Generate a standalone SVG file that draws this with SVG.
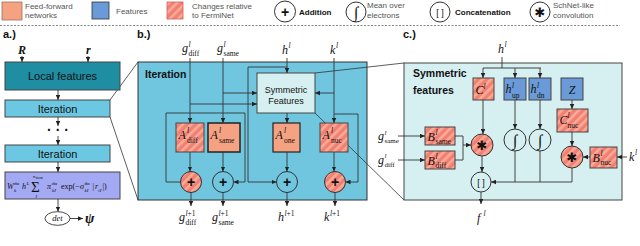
<svg xmlns="http://www.w3.org/2000/svg" width="640" height="246" viewBox="0 0 640 246">
<defs>
<pattern id="hatch" width="6" height="6" patternUnits="userSpaceOnUse" patternTransform="rotate(45)">
<rect width="6" height="6" fill="#f27e79"/>
<rect width="2.6" height="6" fill="#f9ad8e"/>
</pattern>
<marker id="ah" viewBox="0 0 10 10" refX="10" refY="5" markerWidth="5" markerHeight="5" markerUnits="userSpaceOnUse" orient="auto">
<path d="M0,0.5 L10,5 L0,9.5 z" fill="#222"/>
</marker>
</defs>
<style>
.ln{fill:none;stroke:#333;stroke-width:0.9}
.ar{marker-end:url(#ah)}
.zl{fill:none;stroke:#333;stroke-width:0.8}
.bx{stroke:#444;stroke-width:1}
.ff{fill:#f5a282}
.ht{fill:url(#hatch)}
.ft{fill:#6a9bd8}
.op{fill:none;stroke:#333;stroke-width:1}
.oph{fill:url(#hatch);stroke:#333;stroke-width:1}
.lg{font-family:"Liberation Sans",Arial,sans-serif;font-size:8px;fill:#555}
.lgb{font-family:"Liberation Sans",Arial,sans-serif;font-size:8px;font-weight:bold;fill:#111}
.pl{font-family:"Liberation Sans",Arial,sans-serif;font-size:11px;font-weight:bold;fill:#111}
.sn{font-family:"Liberation Sans",Arial,sans-serif;fill:#111}
.m{font-family:"Liberation Serif","Times New Roman",serif;font-style:italic;font-size:12px;fill:#111}
.s{font-size:7.5px}
.r{font-style:normal}
.t{font-size:5px}
.pls{font-family:"Liberation Sans",Arial,sans-serif;font-weight:bold;font-size:14px;fill:#111;text-anchor:middle}
.int{font-family:"Liberation Serif","Times New Roman",serif;font-style:italic;font-size:16px;fill:#111;text-anchor:middle}
.ast{font-family:"DejaVu Sans",sans-serif;font-size:13px;fill:#111;text-anchor:middle}
.cc{font-family:"Liberation Sans",Arial,sans-serif;font-size:9px;fill:#111;text-anchor:middle}
</style>
<rect width="640" height="246" fill="#ffffff"/>

<g id="legend">
<rect x="2" y="2" width="20" height="18" class="ff" stroke="#9a7060" stroke-width="0.8"/>
<text class="lg" x="25" y="9">Feed-forward</text>
<text class="lg" x="25" y="18">networks</text>
<rect x="92" y="2" width="17" height="17" class="ft" stroke="#333" stroke-width="0.8"/>
<text class="lg" x="116" y="14">Features</text>
<rect x="167" y="2" width="16" height="17" class="ht" stroke="#d06060" stroke-width="0.8"/>
<text class="lg" x="192" y="8.5">Changes relative</text>
<text class="lg" x="192" y="18">to FermiNet</text>
<circle cx="285" cy="11.5" r="10.5" class="op"/>
<text class="pls" x="285" y="16.5">+</text>
<text class="lgb" x="299" y="15">Addition</text>
<circle cx="356" cy="12" r="10" class="op"/>
<text class="int" x="356" y="17.5">∫</text>
<text class="lg" x="367" y="8">Mean over</text>
<text class="lg" x="367" y="18">electrons</text>
<circle cx="440" cy="12" r="10" class="op"/>
<text class="cc" x="440" y="15.5">[ ]</text>
<text class="lgb" x="455" y="15">Concatenation</text>
<circle cx="540" cy="12" r="10" class="op"/>
<text class="ast" x="540" y="17">✱</text>
<text class="lg" x="553" y="8">SchNet-like</text>
<text class="lg" x="553" y="18">convolution</text>
<line x1="0" y1="25.5" x2="620" y2="25.5" stroke="#666" stroke-width="0.8" stroke-dasharray="2 1.5"/>
<text class="pl" x="3" y="38">a.)</text>
<text class="pl" x="137" y="38">b.)</text>
<text class="pl" x="403" y="38">c.)</text>
</g>

<g id="panel-b">
<rect x="138" y="62" width="229" height="138" fill="#70c6df" stroke="#333" stroke-width="1"/>
<text class="sn" x="145" y="77.5" font-size="10.5" font-weight="bold">Iteration</text>
</g>
<g id="panel-c">
<rect x="404" y="63" width="218" height="137" fill="#d6eff0" stroke="#444" stroke-width="1"/>
<text class="sn" x="413" y="76.5" font-size="10.5" font-weight="bold">Symmetric</text>
<text class="sn" x="413" y="94" font-size="10.5" font-weight="bold">features</text>
</g>

<g id="zoom-lines">
<path class="zl" d="M110,100 L138,62 M110,117 L138,200"/>
<path class="zl" d="M315,73 L404,63 M315,113 L404,200"/>
</g>

<g id="a-R"><text class="m" x="18" y="54" style="font-weight:bold">R</text></g>
<g id="a-r"><text class="m" x="86" y="54" style="font-weight:bold">r</text></g>
<g id="a-local">
<rect x="5" y="62" width="115" height="28" fill="#1f8ea3" class="bx"/>
<text class="sn" x="62.5" y="80" font-size="11" text-anchor="middle">Local features</text>
</g>
<g id="a-iter1">
<rect x="5" y="100" width="105" height="17" fill="#6cc8e2" class="bx"/>
<text class="sn" x="57.5" y="112.5" font-size="11" text-anchor="middle">Iteration</text>
</g>
<g id="a-dots"><text class="sn" x="58" y="135" font-size="14" font-weight="bold" text-anchor="middle">· · ·</text></g>
<g id="a-iter2">
<rect x="5" y="145" width="105" height="17" fill="#6cc8e2" class="bx"/>
<text class="sn" x="57.5" y="157.5" font-size="11" text-anchor="middle">Iteration</text>
</g>
<g id="a-envelope">
<rect x="5" y="172" width="115" height="27" fill="#a3a9f3" class="bx"/>
<text class="m" style="font-size:8px">
<tspan x="7" y="189">W</tspan><tspan class="r t" x="14" y="185">dα</tspan><tspan class="t" x="14" y="191.5">k</tspan>
<tspan x="22" y="189">h</tspan><tspan class="t" x="26.5" y="185">L</tspan>
<tspan class="r" x="31" y="191.5" style="font-size:15px">Σ</tspan>
<tspan class="t" x="33" y="178">n</tspan><tspan class="r" x="35.8" y="179" style="font-size:3.5px">atom</tspan>
<tspan x="35.5" y="198.3" style="font-size:4.5px">I</tspan>
<tspan x="47" y="189">π</tspan><tspan class="r t" x="52" y="185">dα</tspan><tspan class="t" x="52" y="191.5">kI</tspan>
<tspan class="r" x="61" y="189">exp(−</tspan><tspan x="80" y="189">σ</tspan><tspan class="r t" x="84.5" y="185">dα</tspan><tspan class="t" x="84.5" y="191.5">kI</tspan>
<tspan class="r" x="92.5" y="189">|</tspan><tspan x="95" y="189">r</tspan><tspan class="t" x="98.3" y="191.5">iI</tspan><tspan class="r" x="102.5" y="189">|)</tspan>
</text>
</g>
<g id="a-det">
<ellipse cx="57.5" cy="218.5" rx="12.5" ry="6.8" fill="#fff" stroke="#333" stroke-width="0.9"/>
<text class="m" x="57.5" y="221.3" style="font-size:8.5px" text-anchor="middle">det</text>
</g>
<g id="a-psi"><text class="m" x="85" y="222.5" style="font-size:14px;font-weight:bold">ψ</text></g>

<g id="b-gdiff-in"><text class="m" x="182" y="52">g<tspan x="188.5" y="47" class="s">l</tspan><tspan x="188.5" y="55.5" class="s r">diff</tspan></text></g>
<g id="b-gsame-in"><text class="m" x="217" y="52">g<tspan x="223.5" y="47" class="s">l</tspan><tspan x="223.5" y="55.5" class="s r">same</tspan></text></g>
<g id="b-h-in"><text class="m" x="282" y="54">h<tspan x="288.5" y="48" class="s">l</tspan></text></g>
<g id="b-k-in"><text class="m" x="330" y="54">k<tspan x="336" y="48" class="s">l</tspan></text></g>
<g id="b-sym">
<rect x="257" y="73" width="58" height="40" fill="#d6eff0" class="bx"/>
<text class="sn" x="286" y="92.5" font-size="9" text-anchor="middle">Symmetric</text>
<text class="sn" x="286" y="104" font-size="9" text-anchor="middle">Features</text>
</g>
<g id="b-Adiff">
<rect x="176" y="123" width="28" height="29" class="ht bx"/>
<text class="m" x="178.5" y="139">A<tspan x="187" y="133" class="s">l</tspan><tspan x="187" y="142.5" class="s r">diff</tspan></text>
</g>
<g id="b-Asame">
<rect x="208" y="123" width="32" height="29" class="ff" stroke="#222" stroke-width="1.5"/>
<text class="m" x="210.5" y="139">A<tspan x="219" y="133" class="s">l</tspan><tspan x="219" y="142.5" class="s r">same</tspan></text>
</g>
<g id="b-Aone">
<rect x="273" y="123" width="27" height="29" class="ff" stroke="#222" stroke-width="1.2"/>
<text class="m" x="275.5" y="139">A<tspan x="284" y="133" class="s">l</tspan><tspan x="284" y="142.5" class="s r">one</tspan></text>
</g>
<g id="b-Anuc">
<rect x="320" y="123" width="28" height="29" class="ht bx"/>
<text class="m" x="322.5" y="139">A<tspan x="331" y="133" class="s">l</tspan><tspan x="331" y="142.5" class="s r">nuc</tspan></text>
</g>
<g id="b-add-gdiff"><circle cx="191" cy="182" r="10.5" class="oph"/><text class="pls" x="191" y="187">+</text></g>
<g id="b-add-gsame"><circle cx="223" cy="182" r="10.5" class="op"/><text class="pls" x="223" y="187">+</text></g>
<g id="b-add-h"><circle cx="287" cy="182" r="10.5" class="op"/><text class="pls" x="287" y="187">+</text></g>
<g id="b-add-k"><circle cx="335" cy="182" r="10.5" class="oph"/><text class="pls" x="335" y="187">+</text></g>
<g id="b-gdiff-out"><text class="m" x="179" y="221">g<tspan x="185.5" y="215.5" class="s">l<tspan class="r">+1</tspan></tspan><tspan x="185.5" y="225" class="s r">diff</tspan></text></g>
<g id="b-gsame-out"><text class="m" x="212" y="221">g<tspan x="218.5" y="215.5" class="s">l<tspan class="r">+1</tspan></tspan><tspan x="218.5" y="225" class="s r">same</tspan></text></g>
<g id="b-h-out"><text class="m" x="278" y="221">h<tspan x="284.5" y="215.5" class="s">l<tspan class="r">+1</tspan></tspan></text></g>
<g id="b-k-out"><text class="m" x="324" y="221">k<tspan x="330" y="215.5" class="s">l<tspan class="r">+1</tspan></tspan></text></g>

<g id="c-h-in"><text class="m" x="498" y="53">h<tspan x="504.5" y="47" class="s">l</tspan></text></g>
<g id="c-C">
<rect x="473" y="78" width="21" height="22" class="ht bx"/>
<text class="m" x="475.5" y="94">C<tspan x="483.5" y="88.5" class="s">l</tspan></text>
</g>
<g id="c-hup">
<rect x="504" y="78" width="22" height="22" class="ft bx"/>
<text class="m" x="505.5" y="93">h<tspan x="512" y="88" class="s">l</tspan><tspan x="512" y="97.5" class="s r">up</tspan></text>
</g>
<g id="c-hdn">
<rect x="529" y="78" width="22" height="22" class="ft bx"/>
<text class="m" x="530.5" y="93">h<tspan x="537" y="88" class="s">l</tspan><tspan x="537" y="97.5" class="s r">dn</tspan></text>
</g>
<g id="c-Z">
<rect x="561" y="78" width="22" height="22" class="ft bx"/>
<text class="m" x="572" y="94" text-anchor="middle">Z</text>
</g>
<g id="c-Cnuc">
<rect x="557" y="109" width="31" height="23" class="ht bx"/>
<text class="m" x="559.5" y="124">C<tspan x="567.5" y="118" class="s">l</tspan><tspan x="567.5" y="127.5" class="s r">nuc</tspan></text>
</g>
<g id="c-gsame-in"><text class="m" x="378" y="140">g<tspan x="384.5" y="134.5" style="font-size:7px">l</tspan><tspan x="384.5" y="143" class="r" style="font-size:7px">same</tspan></text></g>
<g id="c-gdiff-in"><text class="m" x="378" y="163.5">g<tspan x="384.5" y="158" style="font-size:7px">l</tspan><tspan x="384.5" y="166.5" class="r" style="font-size:7px">diff</tspan></text></g>
<g id="c-Bsame">
<rect x="425" y="127" width="30" height="18" class="ht bx"/>
<text class="m" x="427.5" y="140.5">B<tspan x="435.5" y="135" class="s">l</tspan><tspan x="435.5" y="143.5" class="s r">same</tspan></text>
</g>
<g id="c-Bdiff">
<rect x="425" y="151" width="30" height="18" class="ht bx"/>
<text class="m" x="427.5" y="164.5">B<tspan x="435.5" y="159" class="s">l</tspan><tspan x="435.5" y="167.5" class="s r">diff</tspan></text>
</g>
<g id="c-conv"><circle cx="482" cy="145" r="11" class="oph"/><text class="ast" x="482" y="150">✱</text></g>
<g id="c-int-up"><circle cx="515" cy="140" r="11" class="op"/><text class="int" x="515" y="145.5">∫</text></g>
<g id="c-int-dn"><circle cx="540" cy="140" r="11" class="op"/><text class="int" x="540" y="145.5">∫</text></g>
<g id="c-conv-nuc"><circle cx="572" cy="157" r="11" class="oph"/><text class="ast" x="572" y="162">✱</text></g>
<g id="c-Bnuc">
<rect x="590" y="147" width="27" height="21" class="ht bx"/>
<text class="m" x="592.5" y="161.5">B<tspan x="600.5" y="155.5" class="s">l</tspan><tspan x="600.5" y="165" class="s r">nuc</tspan></text>
</g>
<g id="c-k-in"><text class="m" x="629" y="161">k<tspan x="635" y="155" class="s">l</tspan></text></g>
<g id="c-concat"><circle cx="481" cy="182" r="10" class="op"/><text class="cc" x="481" y="185.5">[ ]</text></g>
<g id="c-f-out"><text class="m" x="477" y="222">f<tspan x="483.5" y="216" class="s">l</tspan></text></g>

<g id="connectors">
<path class="ln ar" d="M22,56 V62"/>
<path class="ln ar" d="M88,56 V62"/>
<path class="ln ar" d="M58,90 V100"/>
<path class="ln ar" d="M58,117 V126"/>
<path class="ln ar" d="M58,136 V145"/>
<path class="ln ar" d="M58,162 V172"/>
<path class="ln ar" d="M58,199 V211.7"/>
<path class="ln ar" d="M70,218.5 H83"/>
<path class="ln ar" d="M190,58 V123"/>
<path class="ln ar" d="M223,58 V123"/>
<path class="ln ar" d="M223,93 H257"/>
<path class="ln ar" d="M190,104 H257"/>
<path class="ln ar" d="M287,58 V73"/>
<path class="ln ar" d="M334,58 V123"/>
<path class="ln ar" d="M334,93 H315"/>
<path class="ln ar" d="M287,113 V123"/>
<path class="ln ar" d="M180.5,182 H166 V113 H245 V182 H233.5"/>
<path class="ln ar" d="M287,67 H248 V182 H276.5"/>
<path class="ln ar" d="M334,114 H358 V182 H345.5"/>
<path class="ln ar" d="M190,152 V171.5"/>
<path class="ln ar" d="M223,152 V171.5"/>
<path class="ln ar" d="M287,152 V171.5"/>
<path class="ln ar" d="M334,152 V171.5"/>
<path class="ln ar" d="M191,192.5 V206"/>
<path class="ln ar" d="M223,192.5 V206"/>
<path class="ln ar" d="M287,192.5 V206"/>
<path class="ln ar" d="M335,192.5 V206"/>
<path class="ln" d="M502,57 V68 M483,68 H541"/>
<path class="ln ar" d="M483,68 V78"/>
<path class="ln ar" d="M515,68 V78"/>
<path class="ln ar" d="M540,68 V78"/>
<path class="ln ar" d="M483,100 V134"/>
<path class="ln ar" d="M515,100 V129"/>
<path class="ln ar" d="M540,100 V129"/>
<path class="ln ar" d="M572,100 V109"/>
<path class="ln ar" d="M572,132 V146"/>
<path class="ln ar" d="M590,157 H583"/>
<path class="ln ar" d="M627,157 H617"/>
<path class="ln ar" d="M398,136 H425"/>
<path class="ln ar" d="M398,160 H425"/>
<path class="ln" d="M455,136 H463 V160 H455"/>
<path class="ln ar" d="M463,145 H471"/>
<path class="ln ar" d="M482,156 V172"/>
<path class="ln ar" d="M572,168 V182 H491"/>
<path class="ln" d="M515,151 V182 M540,151 V182"/>
<path class="ln ar" d="M481,192 V204"/>
</g>
</svg>
